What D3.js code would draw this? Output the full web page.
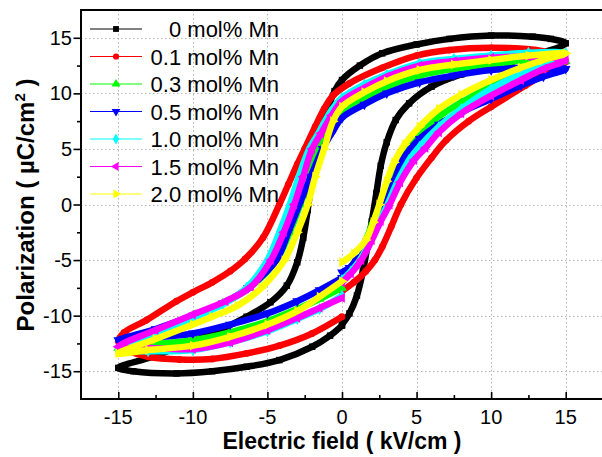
<!DOCTYPE html>
<html>
<head>
<meta charset="utf-8">
<script src="https://cdn.jsdelivr.net/npm/d3@7"></script>
<style>
  body { margin: 0; background: #fff; }
  svg { display: block; font-family: "Liberation Sans", Arial, sans-serif; }
</style>
</head>
<body>
<div id="chart"></div>
<script>
const mn00 = [[0,-10.8],[0.5,-9.8],[1.0,-8.2],[1.4,-6.0],[1.7,-3.8],[2.0,-1.5],[2.3,1.0],[2.6,3.5],[3.0,5.6],[3.6,7.6],[4.5,9.1],[6,10.6],[8,11.7],[10.5,12.5],[12.8,13.4],[15,14.5],
  [14,14.9],[12.8,15.1],[10,15.2],[7.2,14.9],[5,14.4],[2.7,13.6],[1.2,12.5],[0,11.2],[-0.5,10.2],[-1.0,8.3],[-1.4,6.2],[-1.8,3.8],[-2.1,1.5],[-2.3,-0.5],[-2.6,-3.0],[-3.0,-5.2],[-3.7,-7.3],[-4.8,-8.8],[-6.4,-10.1],[-8.2,-11.3],[-10.2,-12.4],[-12.7,-13.7],[-15,-14.7],
  [-14,-15.0],[-11.1,-15.2],[-8.7,-15.0],[-6.4,-14.6],[-4.2,-14.0],[-2,-12.8],[-0.8,-11.8],[0,-10.9]];
const mn01 = [[0,-7.8],[0.8,-7.0],[1.6,-6.0],[2.2,-5.0],[2.7,-3.8],[3.3,-2.0],[3.95,0],[5.0,2.4],[6.0,4.2],[7,5.8],[8.5,7.5],[10,8.8],[12.3,10.7],[13.7,11.9],[15,12.9],
  [14,13.6],[13,13.9],[10,14.1],[7.2,13.9],[5,13.4],[2.7,12.3],[0.5,10.9],[-0.6,9.8],[-1.2,8.6],[-1.8,7.0],[-2.5,5.0],[-3.0,3.6],[-3.6,1.8],[-4.2,0],[-5.3,-3.0],[-6.5,-4.9],[-7.5,-6.0],[-8.7,-7.0],[-10,-7.9],[-11.1,-8.7],[-13.1,-10.4],[-14.6,-11.5],[-15,-12.3],
  [-14.2,-13.2],[-13,-13.7],[-10.9,-13.95],[-8.7,-13.9],[-6.4,-13.4],[-4.2,-12.7],[-2,-11.6],[0,-10.1]];
const mn03 = [[0,-6.5],[0.5,-5.8],[0.9,-5.0],[1.6,-3.2],[2.1,-1.5],[2.6,0],[3.1,2.2],[3.6,4.0],[4.3,5.3],[5.2,6.4],[6.5,7.9],[8,9.2],[10,10.6],[12,11.7],[13.5,12.4],[15,12.9],
  [12.5,13.0],[10,12.6],[7.5,12.2],[5.2,11.6],[3,10.6],[1.5,9.6],[0,8.5],[-0.6,7.4],[-1.6,5.0],[-2.2,2.5],[-2.8,0],[-3.5,-2.5],[-4.4,-5.0],[-6.2,-7.5],[-8,-8.9],[-10,-10.0],[-12.5,-11.5],[-15,-12.9],
  [-13,-12.6],[-10,-12.2],[-7.5,-11.5],[-5,-10.5],[-3,-9.4],[-1.5,-8.5],[0,-7.5]];
const mn05 = [[0,-6.1],[0.5,-5.7],[0.94,-5.0],[1.7,-3.3],[2.3,-1.6],[2.9,0],[3.5,2.1],[4.06,4.0],[5.2,5.9],[6.5,7.2],[8,8.3],[10,9.5],[12,10.7],[13.5,11.5],[15,12.2],
  [12.5,12.3],[10,12.1],[7.5,11.6],[5.2,11.0],[3,10.0],[1.5,9.0],[0,7.8],[-0.6,6.6],[-1.3,5.0],[-2.1,2.5],[-2.86,0],[-3.6,-2.5],[-4.4,-5.0],[-6.3,-7.5],[-8,-8.9],[-10,-10.0],[-12.5,-11.2],[-15,-12.2],
  [-13,-12.0],[-10,-11.6],[-7.5,-10.8],[-5,-9.8],[-3,-8.7],[-1.5,-7.7],[0,-6.6]];
const mn10 = [[0,-6.8],[0.6,-6.0],[1.2,-5.0],[2.0,-3.0],[2.5,-1.5],[3.05,0],[3.7,2.0],[4.5,4.0],[5.2,5.2],[6.5,7.0],[8,8.6],[10,10.4],[12,11.8],[13.5,12.8],[15,13.6],
  [12.5,13.65],[10,13.4],[7.5,13.1],[5.2,12.7],[3,11.7],[1.5,10.8],[0,9.6],[-0.8,8.3],[-1.5,6.6],[-2.2,5.0],[-2.9,2.5],[-3.5,0],[-4.2,-2.5],[-5.0,-5.0],[-6.4,-7.5],[-8,-9.0],[-10,-10.2],[-12.5,-11.7],[-15,-13.1],
  [-13,-13.2],[-10,-13.1],[-7.5,-12.4],[-5,-11.4],[-3,-10.3],[-1.5,-9.4],[0,-8.2]];
const mn15 = [[0,-7.0],[0.6,-6.2],[1.3,-5.0],[2.0,-3.2],[2.6,-1.5],[3.2,0],[3.9,2.0],[4.84,4.0],[5.6,5.1],[6.5,6.5],[8,8.2],[10,9.8],[12,11.2],[13.5,12.2],[15,13.0],
  [12.5,13.3],[10,13.2],[7.5,12.9],[5.2,12.5],[3,11.5],[1.5,10.5],[0,9.3],[-0.7,8.0],[-1.4,6.4],[-2.0,5.0],[-2.6,2.5],[-3.2,0],[-3.9,-2.5],[-4.76,-5.0],[-6.1,-7.4],[-7.8,-8.7],[-10,-9.9],[-12.5,-11.3],[-15,-12.8],
  [-13,-12.9],[-10,-13.0],[-7.5,-12.4],[-5,-11.3],[-3,-10.2],[-1.5,-9.3],[0,-8.4]];
const mn20 = [[0,-5.2],[0.8,-4.4],[1.6,-3.2],[2.1,-1.6],[2.5,0],[3.0,2.1],[3.5,3.8],[4.2,5.4],[5.2,7.0],[6.5,8.6],[8,9.9],[10,11.2],[12,12.3],[13.5,13.0],[15,13.6],
  [12.5,13.4],[10,13.0],[7.5,12.6],[5.2,12.1],[3,11.1],[1.5,10.1],[0,8.8],[-0.6,7.5],[-1.2,5.0],[-1.8,2.5],[-2.3,0],[-3.0,-2.5],[-3.86,-5.0],[-5.4,-7.5],[-7,-9.1],[-8.7,-10.1],[-10,-10.8],[-12.5,-12.1],[-15,-13.4],
  [-13,-13.1],[-10,-12.7],[-7.5,-11.9],[-5,-10.8],[-3,-9.6],[-1.5,-8.3],[0,-6.9]];

const labels = ["0 mol% Mn", "0.1 mol% Mn", "0.3 mol% Mn", "0.5 mol% Mn", "1.0 mol% Mn", "1.5 mol% Mn", "2.0 mol% Mn"];
const xTicks = [-15, -10, -5, 0, 5, 10, 15];
const yTicks = [-15, -10, -5, 0, 5, 10, 15];

// styles
const colors = ["#000000", "#ff0000", "#00ff00", "#0000ff", "#00ffff", "#ff00ff", "#ffff00"];
// symbol type + rotation, Origin style
const symbols = [
  [d3.symbolSquare, 0], [d3.symbolCircle, 0], [d3.symbolTriangle, 0], [d3.symbolTriangle, 180],
  [d3.symbolDiamond, 0], [d3.symbolTriangle, -90], [d3.symbolTriangle, 90]
];

const loops = [mn00, mn01, mn03, mn05, mn10, mn15, mn20];

const width = 602, height = 457;
const mLeft = 81, mRight = 603, mTop = 10, mBottom = 399;

const x = d3.scaleLinear().domain([-17.5, 17.5]).range([mLeft, mRight]);
const y = d3.scaleLinear().domain([-17.5, 17.5]).range([mBottom, mTop]);

const svg = d3.select("#chart").append("svg")
  .attr("width", width)
  .attr("height", height);

// grid
const grid = svg.append("g").attr("stroke", "#b4b4b4").attr("stroke-width", 1).attr("stroke-dasharray", "1.5,2.5");
grid.selectAll("line.gx").data(xTicks).enter().append("line")
  .attr("x1", d => Math.round(x(d)) + 0.5).attr("x2", d => Math.round(x(d)) + 0.5)
  .attr("y1", mTop).attr("y2", mBottom);
grid.selectAll("line.gy").data(yTicks).enter().append("line")
  .attr("y1", d => Math.round(y(d)) + 0.5).attr("y2", d => Math.round(y(d)) + 0.5)
  .attr("x1", mLeft).attr("x2", mRight);

svg.append("clipPath").attr("id", "plotclip").append("rect")
  .attr("x", mLeft).attr("y", mTop).attr("width", mRight - mLeft).attr("height", mBottom - mTop);

const plot = svg.append("g").attr("clip-path", "url(#plotclip)");
const line = d3.line().x(d => x(d[0])).y(d => y(d[1])).curve(d3.curveCatmullRom.alpha(0.5));

loops.forEach((loop, i) => {
  const g = plot.append("g");
  g.append("path")
    .datum(loop)
    .attr("d", line)
    .attr("fill", "none")
    .attr("stroke", colors[i])
    .attr("stroke-width", 6.5)
    .attr("stroke-linejoin", "round");
  const sym = d3.symbol().type(symbols[i][0]).size(i === 1 ? 36 : 42);
  g.selectAll("path.m").data(loop).enter().append("path")
    .attr("d", sym)
    .attr("transform", d => `translate(${x(d[0])},${y(d[1])}) rotate(${symbols[i][1]})`)
    .attr("fill", colors[i]);
});

// axes
const xAxis = d3.axisBottom(x).tickValues(d3.range(-15, 15.1, 2.5))
  .tickSizeInner(-4).tickSizeOuter(0).tickFormat("");
const gx = svg.append("g").attr("transform", `translate(0,${mBottom})`).call(xAxis);
gx.selectAll(".tick line").filter(d => d % 5 === 0).attr("y2", -7);

const yAxis = d3.axisLeft(y).tickValues(d3.range(-15, 15.1, 2.5))
  .tickSizeInner(4).tickSizeOuter(0).tickFormat("");
const gy = svg.append("g").attr("transform", `translate(${mLeft},0)`).call(yAxis);
gy.selectAll(".tick line").filter(d => d % 5 === 0).attr("x2", -7.5);

svg.selectAll(".domain").remove();
svg.selectAll(".tick line").attr("stroke", "#000").attr("stroke-width", 1.6);

// frame (right edge sits just off the picture)
svg.append("path")
  .attr("d", `M${mLeft},${mTop}H${mRight}V${mBottom}H${mLeft}Z`)
  .attr("fill", "none").attr("stroke", "#000").attr("stroke-width", 2);

svg.append("g").selectAll("text").data(xTicks).enter().append("text")
  .attr("x", d => x(d)).attr("y", 423.5)
  .attr("text-anchor", "middle").attr("font-size", 20)
  .text(d => d);

svg.append("g").selectAll("text").data(yTicks).enter().append("text")
  .attr("x", 72).attr("y", d => y(d) + 7)
  .attr("text-anchor", "end").attr("font-size", 20)
  .text(d => d);

svg.append("text")
  .attr("x", 342).attr("y", 448.5)
  .attr("text-anchor", "middle").attr("font-size", 23).attr("font-weight", "bold")
  .text("Electric field ( kV/cm )");

const yt = svg.append("text")
  .attr("transform", "translate(34,205) rotate(-90)")
  .attr("text-anchor", "middle").attr("font-size", 24).attr("font-weight", "bold");
yt.append("tspan").text("Polarization ( \u00b5C/cm");
yt.append("tspan").attr("dy", -9).attr("font-size", 15).text("2");
yt.append("tspan").attr("dy", 9).text(" )");

// legend
const leg = svg.append("g");
labels.forEach((lab, i) => {
  const ly = 29 + i * 27.5;
  leg.append("line").attr("x1", 90).attr("x2", 142).attr("y1", ly).attr("y2", ly)
    .attr("stroke", colors[i]).attr("stroke-width", 1);
  leg.append("path")
    .attr("d", d3.symbol().type(symbols[i][0]).size(i === 1 ? 30 : 34))
    .attr("transform", `translate(116,${ly}) rotate(${symbols[i][1]})`)
    .attr("fill", colors[i]);
  leg.append("text").attr("x", 279).attr("y", ly + 8)
    .attr("text-anchor", "end").attr("font-size", 22)
    .text(lab);
});
</script>
</body>
</html>
